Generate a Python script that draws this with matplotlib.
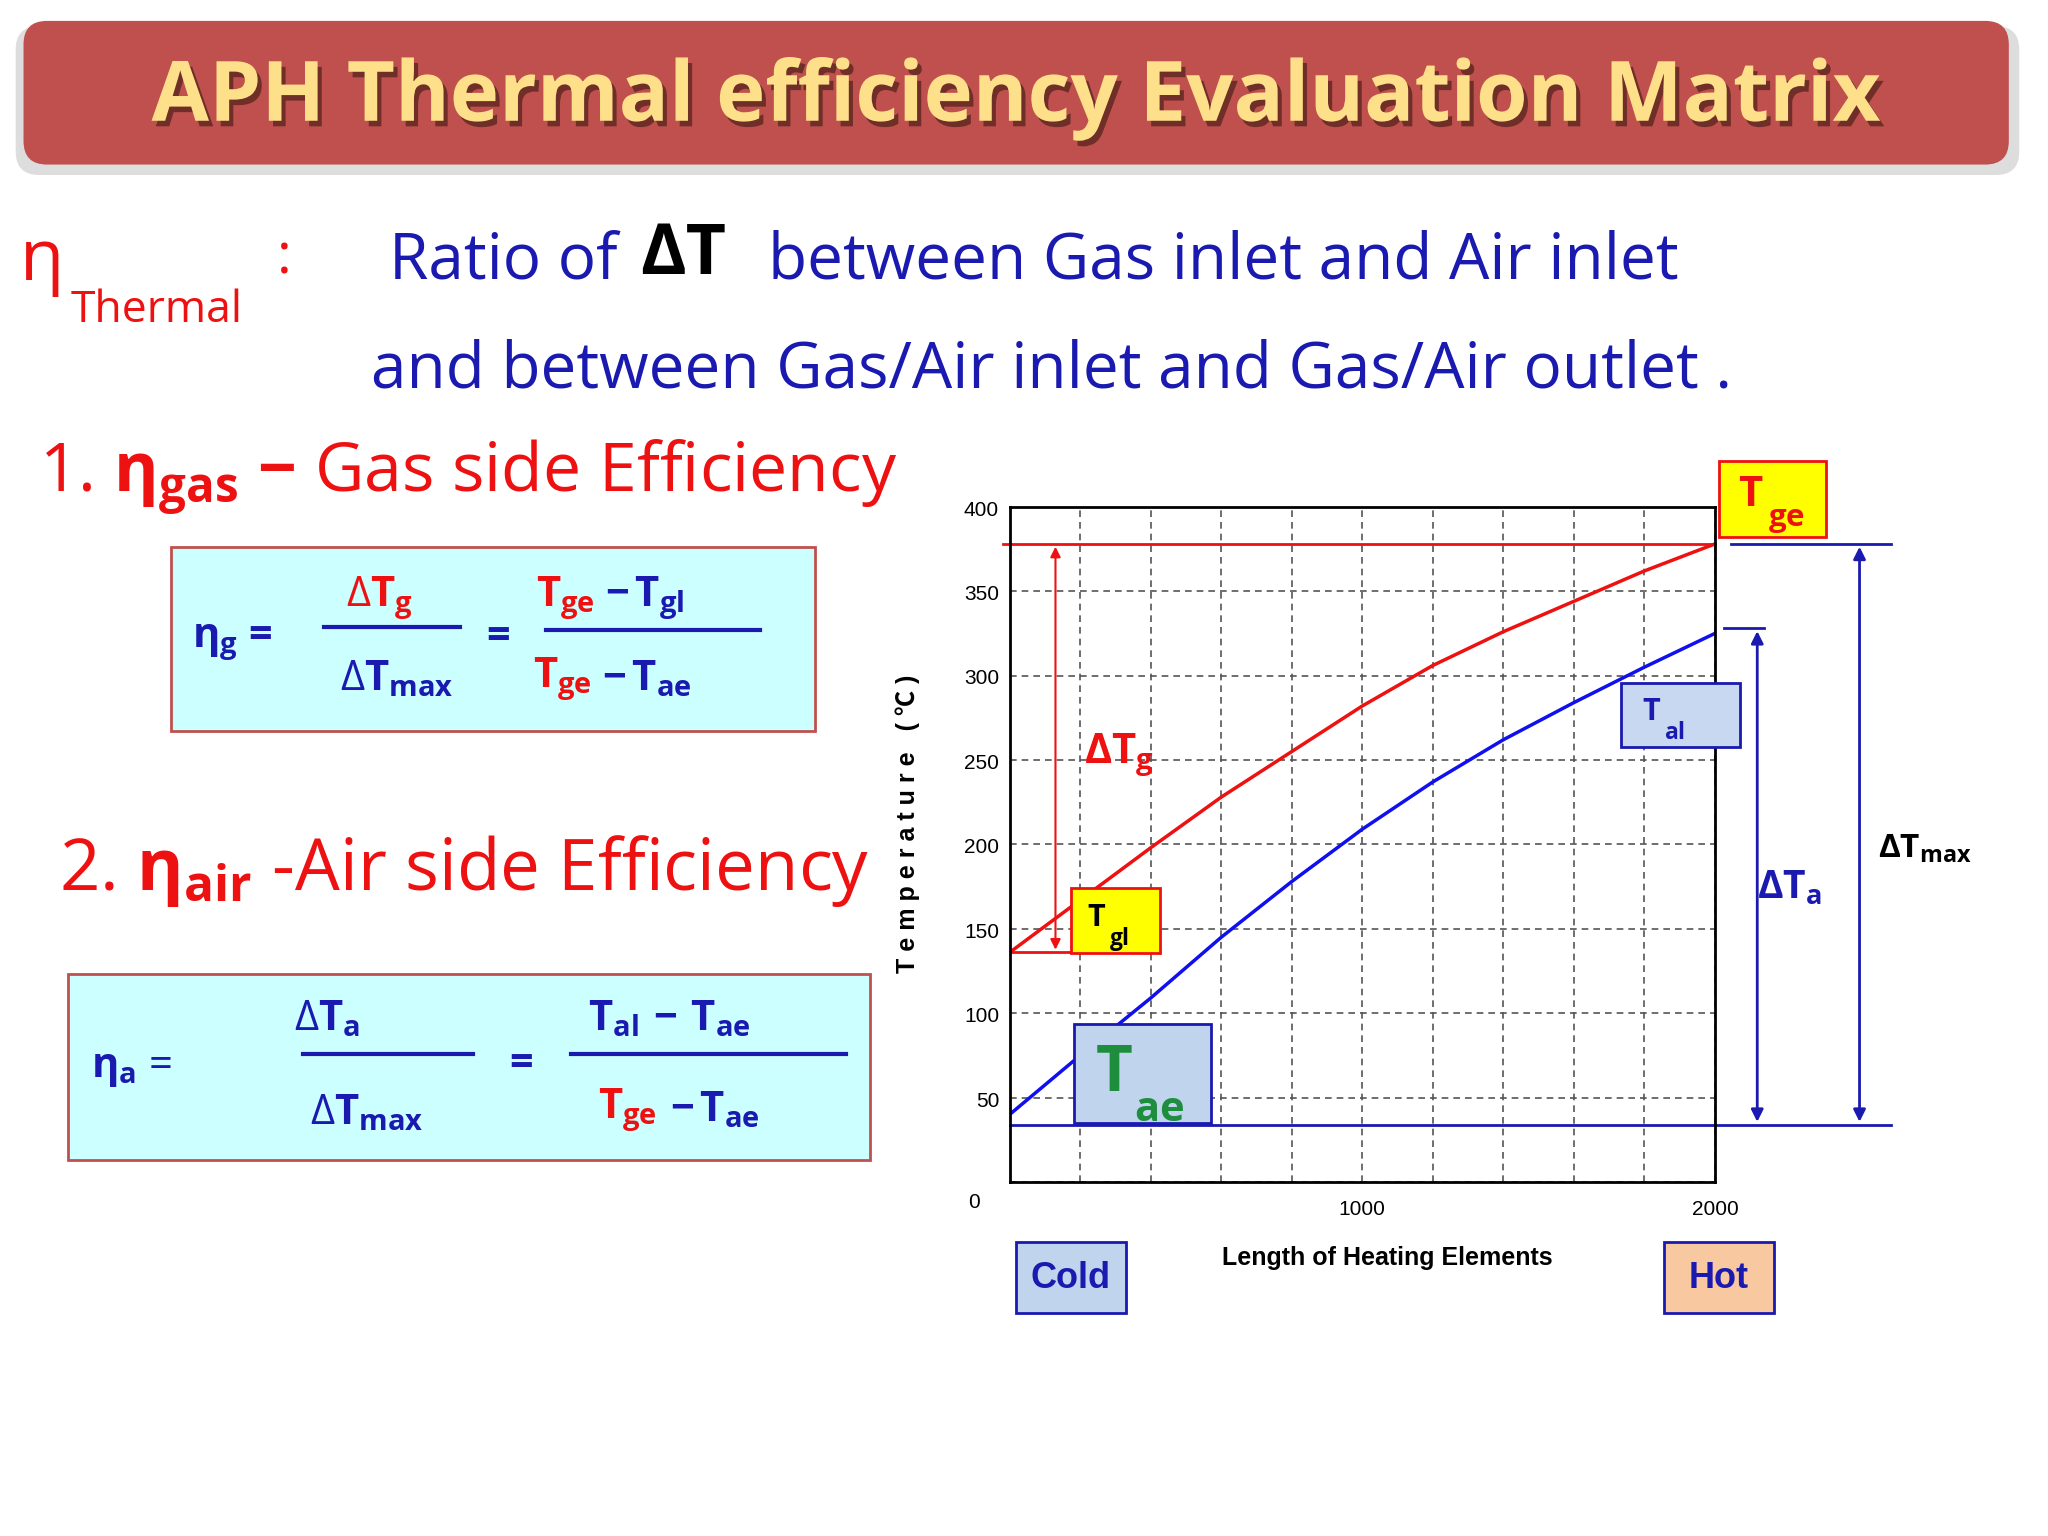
import matplotlib
matplotlib.use("Agg")
import matplotlib.pyplot as plt
import matplotlib.patheffects as pe
from matplotlib.patches import FancyBboxPatch, Rectangle
import numpy as np

plt.rcParams['font.family'] = ['Open Sans', 'DejaVu Sans']
plt.rcParams['mathtext.fontset'] = 'custom'
plt.rcParams['mathtext.rm'] = 'Open Sans'
plt.rcParams['mathtext.bf'] = 'Open Sans:bold'
plt.rcParams['mathtext.it'] = 'Open Sans:italic'

# ---- data ----
length = [0, 200, 400, 600, 800, 1000, 1200, 1400, 1600, 1800, 2000]
gas_temp = [136, 167, 198, 228, 255, 282, 306, 326, 344, 362, 378]
air_temp = [40, 75, 109, 145, 178, 209, 237, 262, 284, 305, 325]
y_ticks = [0, 50, 100, 150, 200, 250, 300, 350, 400]
x_ticks = [0, 1000, 2000]
T_ge, T_gl, T_ae, T_al = 378, 136, 34, 325

W, H = 1568, 1176
fig = plt.figure(figsize=(20.48, 15.36), dpi=100)
def P(x, y):
    return (x / W, 1 - y / H)

RED = '#EE1111'
NAVY = '#1A1AB0'

ov = fig.add_axes([0, 0, 1, 1]); ov.set_axis_off(); ov.set_xlim(0, W); ov.set_ylim(H, 0)
ov.add_patch(FancyBboxPatch((12, 20), 1534, 114, boxstyle="round,pad=0,rounding_size=18",
                            fc='#DDDDDD', ec='none'))
ov.add_patch(FancyBboxPatch((18, 16), 1520, 110, boxstyle="round,pad=0,rounding_size=18",
                            fc='#C0504D', ec='none'))
fig.text(*P(778, 76), 'APH Thermal efficiency Evaluation Matrix', fontsize=60, weight='bold',
         color='#FFE08A', ha='center', va='center',
         path_effects=[pe.withSimplePatchShadow(offset=(3, -4), shadow_rgbFace='#3A1A10', alpha=0.6)])

# Definition
fig.text(*P(15, 200), 'η', fontsize=52, color=RED, va='center')
fig.text(*P(54, 238), 'Thermal', fontsize=32, color=RED, va='center')
fig.text(*P(212, 198), ':', fontsize=40, color=RED, va='center')
fig.text(*P(298, 200), 'Ratio of', fontsize=46, color=NAVY, va='center')
fig.text(*P(490, 196), 'ΔT', fontsize=50, color='black', weight='bold', va='center')
fig.text(*P(588, 200), 'between Gas inlet and Air inlet', fontsize=46, color=NAVY, va='center')
fig.text(*P(284, 284), 'and between Gas/Air inlet and Gas/Air outlet .', fontsize=46, color=NAVY, va='center')

# Section 1
fig.text(*P(30, 365), r'1. $\mathbf{\eta_{gas}}$ $\mathbf{-}$ Gas side Efficiency', fontsize=49, color=RED, va='center')
ov.add_patch(Rectangle((131, 419), 493, 141, fc='#CCFFFF', ec='#C0504D', lw=2))
fs = 30
fig.text(*P(147, 492), r'$\mathbf{\eta_g}$ =', fontsize=fs, color=NAVY, va='center', weight='bold')
fig.text(*P(265, 458), r'$\mathbf{\mathit{\Delta}T_g}$', fontsize=fs, color=RED, va='center')
ov.plot([248, 352], [480, 480], color=NAVY, lw=3)
fig.text(*P(260, 520), r'$\mathbf{\mathit{\Delta}T_{max}}$', fontsize=fs, color=NAVY, va='center')
fig.text(*P(372, 488), '=', fontsize=fs, color=NAVY, va='center', weight='bold')
fig.text(*P(410, 458), r'$\mathbf{T_{ge}}$', fontsize=fs, color=RED, va='center')
fig.text(*P(463, 458), r'$\mathbf{-\,T_{gl}}$', fontsize=fs, color=NAVY, va='center')
ov.plot([418, 582], [482, 482], color=NAVY, lw=3)
fig.text(*P(408, 520), r'$\mathbf{T_{ge}}$', fontsize=fs, color=RED, va='center')
fig.text(*P(461, 520), r'$\mathbf{-\,T_{ae}}$', fontsize=fs, color=NAVY, va='center')

# Section 2
fig.text(*P(45, 667), r'2. $\mathbf{\eta_{air}}$ -Air side Efficiency', fontsize=51, color=RED, va='center')
ov.add_patch(Rectangle((52, 746), 614, 142, fc='#CCFFFF', ec='#C0504D', lw=2))
fig.text(*P(70, 818), r'$\mathbf{\eta_a}$ =', fontsize=fs, color=NAVY, va='center')
fig.text(*P(225, 780), r'$\mathbf{\mathit{\Delta}T_a}$', fontsize=fs, color=NAVY, va='center')
ov.plot([232, 362], [807, 807], color=NAVY, lw=3)
fig.text(*P(237, 852), r'$\mathbf{\mathit{\Delta}T_{max}}$', fontsize=fs, color=NAVY, va='center')
fig.text(*P(390, 815), '=', fontsize=fs, color=NAVY, va='center', weight='bold')
fig.text(*P(450, 780), r'$\mathbf{T_{al}\,-\,T_{ae}}$', fontsize=fs, color=NAVY, va='center')
ov.plot([437, 648], [807, 807], color=NAVY, lw=3)
fig.text(*P(458, 850), r'$\mathbf{T_{ge}}$', fontsize=fs, color=RED, va='center')
fig.text(*P(513, 850), r'$\mathbf{-\,T_{ae}}$', fontsize=fs, color=NAVY, va='center')

# Chart
x0, x1, yt, yb = 773, 1313, 388, 905
ax = fig.add_axes([x0 / W, 1 - yb / H, (x1 - x0) / W, (yb - yt) / H])
ax.set_facecolor('none')
ax.set_xlim(0, 2000); ax.set_ylim(0, 400)
ax.set_xticks(np.arange(0, 2001, 200))
ax.set_yticks(np.arange(0, 401, 50))
ax.grid(True, color='#555555', ls=(0, (4, 3)), lw=1.2)
ax.tick_params(length=0, labelbottom=False, labelleft=False)
for s in ax.spines.values():
    s.set_linewidth(2)
for v in y_ticks[1:]:
    ax.text(-30, v - 2, str(v), ha='right', va='center', fontsize=15, family='Liberation Sans')
ax.text(-100, -12, '0', ha='center', va='center', fontsize=15, family='Liberation Sans')
for v in x_ticks[1:]:
    ax.text(v, -16, str(v), ha='center', va='center', fontsize=15, family='Liberation Sans')
ax.plot(length, gas_temp, color=RED, lw=2.5)
ax.plot(length, air_temp, color='#1010EE', lw=2.5)
ax.plot([-20, 2000], [T_ge, T_ge], color=RED, lw=2, clip_on=False)
ax.plot([0, 2500], [T_ae, T_ae], color=NAVY, lw=2, clip_on=False)
ax.plot([2045, 2500], [T_ge, T_ge], color=NAVY, lw=2, clip_on=False)
ax.plot([2025, 2140], [T_al + 3, T_al + 3], color=NAVY, lw=2, clip_on=False)
ax.plot([0, 200], [T_gl, T_gl], color=RED, lw=2)
ax.annotate('', xy=(130, T_gl), xytext=(130, T_ge),
            arrowprops=dict(arrowstyle='<|-|>', color=RED, lw=1.5, mutation_scale=15))
ax.annotate('', xy=(2120, T_ae), xytext=(2120, T_al + 3),
            arrowprops=dict(arrowstyle='<|-|>', color=NAVY, lw=2, mutation_scale=18), annotation_clip=False)
ax.annotate('', xy=(2410, T_ae), xytext=(2410, T_ge),
            arrowprops=dict(arrowstyle='<|-|>', color=NAVY, lw=2, mutation_scale=18), annotation_clip=False)
ax.text(-290, 212, 'T e m p e r a t u r e   ( ℃ )', rotation=90, ha='center', va='center',
        fontsize=18, weight='bold', family=['Liberation Sans', 'Noto Sans CJK SC'])
ax.text(1070, -45, 'Length of Heating Elements', ha='center', va='center', fontsize=18,
        weight='bold', family='Liberation Sans')

ov2 = fig.add_axes([0, 0, 1, 1]); ov2.set_axis_off(); ov2.set_xlim(0, W); ov2.set_ylim(H, 0)

def label_box(x, y, w, h, fc, ec, sub, mc, sc, f):
    ov2.add_patch(Rectangle((x, y), w, h, fc=fc, ec=ec, lw=2))
    fig.text(*P(x + w * 0.18, y + h * 0.45), r'$\mathbf{T}$', fontsize=f, color=mc, va='center')
    fig.text(*P(x + w * 0.18 + f * 0.75, y + h * 0.78), r'$\mathbf{%s}$' % sub, fontsize=f * 0.75,
             color=sc, va='center')

label_box(1316, 353, 82, 58, '#FFFF00', RED, 'ge', RED, RED, 30)
label_box(820, 680, 68, 50, '#FFFF00', RED, 'gl', 'black', 'black', 22)
label_box(1241, 523, 91, 49, '#C8D8F0', NAVY, 'al', NAVY, NAVY, 22)
ov2.add_patch(Rectangle((822, 784), 105, 76, fc='#C0D4EE', ec=NAVY, lw=2))
fig.text(*P(838, 822), r'$\mathbf{T}$', fontsize=46, color='#1E8E3E', va='center')
fig.text(*P(868, 850), r'$\mathbf{ae}$', fontsize=30, color='#1E8E3E', va='center')

fig.text(*P(830, 578), r'$\mathbf{\Delta T_g}$', fontsize=30, color=RED, va='center')
fig.text(*P(1345, 680), r'$\mathbf{\Delta T_a}$', fontsize=28, color=NAVY, va='center')
fig.text(*P(1438, 650), r'$\mathbf{\Delta T_{max}}$', fontsize=24, color='black', va='center')

ov2.add_patch(Rectangle((778, 951), 84, 54, fc='#C0D4EE', ec=NAVY, lw=2))
fig.text(*P(820, 979), 'Cold', fontsize=26, weight='bold', color=NAVY, ha='center', va='center',
         family='Liberation Sans')
ov2.add_patch(Rectangle((1274, 951), 84, 54, fc='#F8C8A0', ec=NAVY, lw=2))
fig.text(*P(1316, 979), 'Hot', fontsize=26, weight='bold', color=NAVY, ha='center', va='center',
         family='Liberation Sans')

fig.savefig('out.png', dpi=100)
